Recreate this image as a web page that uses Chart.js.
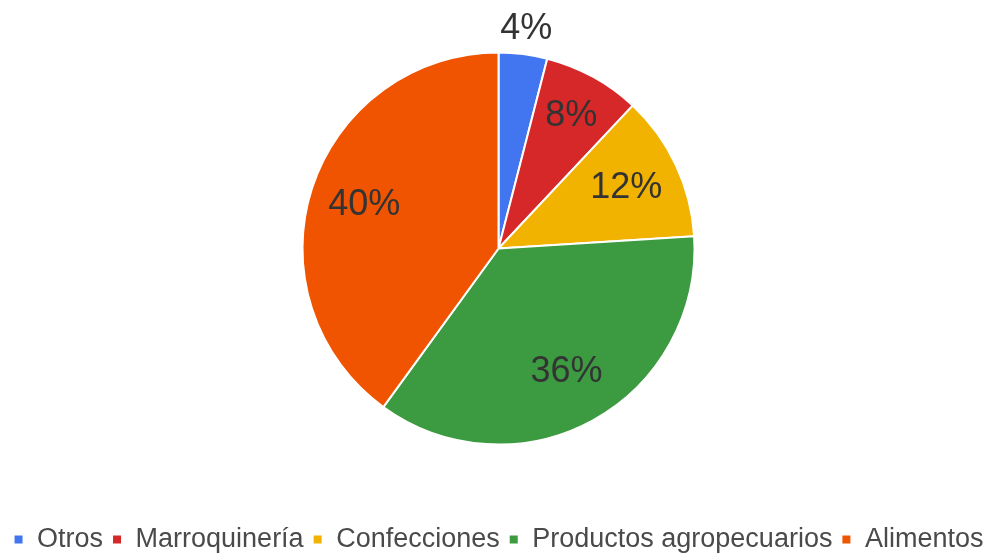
<!DOCTYPE html>
<html>
<head>
<meta charset="utf-8">
<script src="https://cdn.jsdelivr.net/npm/chart.js@4"></script>
<style>
  html, body { margin: 0; padding: 0; background: #fff; }
  #wrap { width: 1001px; height: 555px; }
</style>
</head>
<body>
<div id="wrap"><canvas id="pie"></canvas></div>
<script>
const categories = ["Otros", "Marroquinería", "Confecciones", "Productos agropecuarios", "Alimentos"];
const shares = [4, 8, 12, 36, 40];
const colors = [
    "#4276f0",  // blue
    "#d62828",  // red
    "#f2b200",  // yellow
    "#3c9a40",  // green
    "#f05400"   // orange
];

const FONT = "'Liberation Sans', Arial, sans-serif";

// percentage text on each slice, pushed outward when the slice is thin
const sliceLabels = {
    id: 'sliceLabels',
    afterDatasetsDraw(chart) {
        const ctx = chart.ctx;
        const meta = chart.getDatasetMeta(0);
        ctx.save();
        ctx.font = "36px " + FONT;
        ctx.fillStyle = "#333333";
        ctx.textAlign = "center";
        ctx.textBaseline = "middle";
        meta.data.forEach((arc, i) => {
            const p = arc.getProps(['x', 'y', 'startAngle', 'endAngle', 'outerRadius'], true);
            const mid = (p.startAngle + p.endAngle) / 2;
            const v = shares[i];
            const k = v < 6 ? 1.13 : (v < 10 ? 0.77 : 0.72);
            const r = p.outerRadius * k;
            ctx.fillText(v + "%", p.x + Math.cos(mid) * r, p.y + Math.sin(mid) * r);
        });
        ctx.restore();
    }
};

new Chart(document.getElementById('pie'), {
    type: 'pie',
    data: {
        labels: categories,
        datasets: [{
            data: shares,
            backgroundColor: colors,
            borderColor: "#ffffff",
            borderWidth: 2,
            radius: 196
        }]
    },
    options: {
        responsive: true,
        maintainAspectRatio: false,
        animation: false,
        layout: {
            padding: { top: 0, bottom: -8, left: 0, right: 4 }
        },
        plugins: {
            tooltip: { enabled: false },
            legend: {
                position: 'bottom',
                // empty title only adds room between the pie and the legend row
                title: {
                    display: true,
                    text: '',
                    font: { size: 10, lineHeight: 1.2 },
                    padding: { top: 4, bottom: 4 }
                },
                labels: {
                    usePointStyle: true,
                    pointStyle: 'rect',
                    boxWidth: 10,
                    boxHeight: 10,
                    padding: 9,
                    color: "#4a4a4a",
                    font: { family: FONT, size: 27 }
                }
            }
        }
    },
    plugins: [sliceLabels]
});
</script>
</body>
</html>
